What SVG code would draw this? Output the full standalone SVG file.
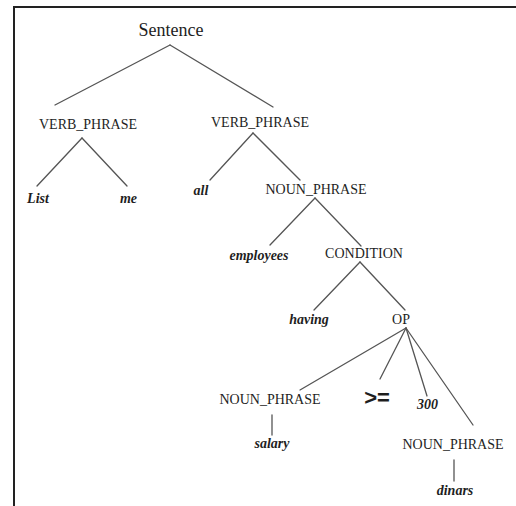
<svg xmlns="http://www.w3.org/2000/svg" width="516" height="506" viewBox="0 0 516 506">
  <style>
    .nt { font-family: "Liberation Serif", "Times New Roman", serif; font-size: 14px; fill: #1e1e1e; text-anchor: middle; }
    .root { font-size: 18px; }
    .w { font-family: "Liberation Serif", "Times New Roman", serif; font-size: 14px; font-weight: bold; font-style: italic; fill: #1e1e1e; text-anchor: middle; }
    .op { font-family: "Liberation Sans", Arial, sans-serif; font-size: 22px; font-weight: bold; fill: #1e1e1e; text-anchor: middle; }
    .edge { stroke: #555; stroke-width: 1.3; fill: none; stroke-linecap: round; }
  </style>
  <rect width="516" height="506" fill="#fff"/>
  <!-- frame: top and left rule -->
  <path d="M14,506 V7 H516" fill="none" stroke="#222" stroke-width="2"/>

  <g id="connectors">
    <line class="edge" x1="170" y1="45" x2="55" y2="105"/>
    <line class="edge" x1="170" y1="45" x2="273" y2="107"/>
    <line class="edge" x1="82" y1="138" x2="37" y2="186"/>
    <line class="edge" x1="82" y1="138" x2="127" y2="186"/>
    <line class="edge" x1="253" y1="133" x2="210" y2="180"/>
    <line class="edge" x1="253" y1="133" x2="300" y2="180"/>
    <line class="edge" x1="315" y1="198" x2="270" y2="245"/>
    <line class="edge" x1="315" y1="198" x2="361" y2="246"/>
    <line class="edge" x1="360" y1="262" x2="314" y2="310"/>
    <line class="edge" x1="360" y1="262" x2="405" y2="310"/>
    <line class="edge" x1="406" y1="328" x2="300" y2="390"/>
    <line class="edge" x1="406" y1="328" x2="380" y2="379"/>
    <line class="edge" x1="406" y1="328" x2="427" y2="396"/>
    <line class="edge" x1="406" y1="328" x2="473" y2="425"/>
    <line class="edge" x1="272" y1="415" x2="272" y2="435"/>
    <line class="edge" x1="454" y1="460" x2="454" y2="481"/>
  </g>

  <g id="sentence"><text class="nt root" x="171" y="36">Sentence</text></g>
  <g id="vp1"><text class="nt" x="88" y="129">VERB_PHRASE</text></g>
  <g id="vp2"><text class="nt" x="260" y="127">VERB_PHRASE</text></g>
  <g id="list"><text class="w" x="38" y="203">List</text></g>
  <g id="me"><text class="w" x="128.5" y="203">me</text></g>
  <g id="all"><text class="w" x="201" y="195">all</text></g>
  <g id="np1"><text class="nt" x="316" y="194">NOUN_PHRASE</text></g>
  <g id="employees"><text class="w" x="259" y="260">employees</text></g>
  <g id="condition"><text class="nt" x="364" y="258">CONDITION</text></g>
  <g id="having"><text class="w" x="309" y="324">having</text></g>
  <g id="op"><text class="nt" x="401" y="324">OP</text></g>
  <g id="np2"><text class="nt" x="270" y="404">NOUN_PHRASE</text></g>
  <g id="ge"><text class="op" x="377" y="405">&gt;=</text></g>
  <g id="n300"><text class="w" x="427.5" y="409">300</text></g>
  <g id="np3"><text class="nt" x="453" y="449">NOUN_PHRASE</text></g>
  <g id="salary"><text class="w" x="272" y="448">salary</text></g>
  <g id="dinars"><text class="w" x="455" y="495">dinars</text></g>
</svg>
